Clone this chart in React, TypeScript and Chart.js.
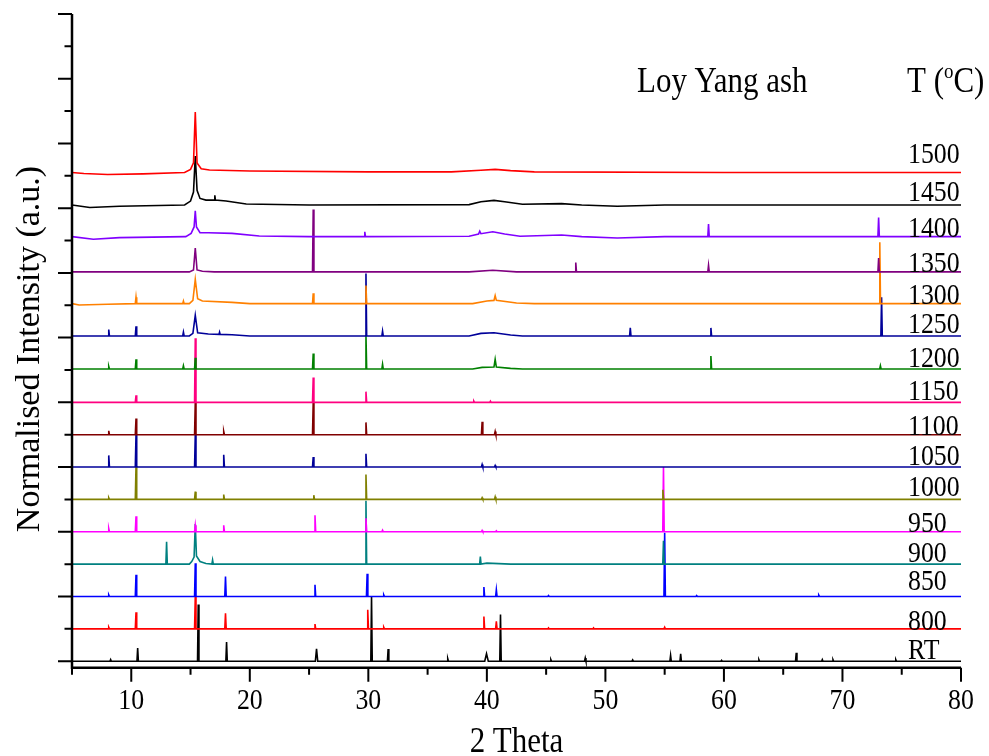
import React, { useEffect, useRef } from 'react';
import { Chart, registerables } from 'chart.js';

Chart.register(...registerables);

type Peak = [number, number] | [number, number, number];
type Pt = [number, number];

// Heat-treatment temperatures, bottom trace to top trace
const temperatures = ['RT', '800', '850', '900', '950', '1000', '1050', '1100', '1150', '1200', '1250', '1300', '1350', '1400', '1450', '1500'];
const traceColors = ['#000000', '#ff0000', '#0000ff', '#008080', '#ff00ff', '#808000', '#000099', '#800000', '#ff0080', '#008000', '#000099', '#ff8000', '#800080', '#8000ff', '#000000', '#ff0000'];
// vertical stacking offset of each pattern (a.u.)
const traceOffsets = [0, 1, 2, 3, 4, 5, 6, 7, 8, 9.03, 10.05, 11.05, 12.03, 13.12, 14.1, 15.1];

const xTickValues = [10, 20, 30, 40, 50, 60, 70, 80];

// Sharp reflections: [2θ (deg), height above pattern baseline (a.u.), optional half width (deg)]
const peaksRT: Peak[] = [[8.26, 0.05], [10.54, 0.41], [15.65, 1.75], [18.04, 0.59], [25.63, 0.38, 0.1], [30.27, 1.99], [31.67, 0.38], [36.7, 0.08], [39.97, 0.23, 0.15], [41.15, 1.44], [45.4, 0.05], [48.3, 0.1], [52.3, 0.04], [55.5, 0.18], [56.35, 0.23], [59.8, 0.03], [62.95, 0.05], [66.1, 0.26], [68.3, 0.05], [69.2, 0.05], [74.5, 0.05]];
const peaks800: Peak[] = [[8.1, 0.05], [10.4, 0.51], [15.4, 1.0], [17.95, 0.48], [25.5, 0.15], [29.95, 0.59], [31.3, 0.05], [39.75, 0.38], [40.8, 0.23], [45.2, 0.03], [49.0, 0.03], [55.0, 0.05]];
const peaks850: Peak[] = [[8.1, 0.05], [10.4, 0.67], [15.4, 1.03], [17.95, 0.62], [25.5, 0.36], [29.9, 0.7], [31.3, 0.05], [39.75, 0.29], [40.8, 0.21], [45.2, 0.03], [55.0, 1.97], [57.7, 0.03], [68.0, 0.04]];
const peaks900: Peak[] = [[12.98, 0.69], [29.8, 1.96], [39.45, 0.23], [54.9, 0.72]];
const peaks950: Peak[] = [[8.1, 0.1], [10.4, 0.48], [15.4, 0.2], [17.8, 0.2], [25.5, 0.51], [29.8, 0.42], [31.2, 0.05], [39.6, 0.04], [40.8, 0.03], [54.9, 2.0]];
const peaks1000: Peak[] = [[8.1, 0.05], [10.4, 1.03], [15.4, 0.24], [17.8, 0.15], [25.4, 0.13], [29.8, 0.77], [39.6, 0.05], [40.7, 0.08], [54.85, 0.3]];
const peaks1050: Peak[] = [[8.1, 0.36], [10.4, 1.0], [15.4, 1.0], [17.8, 0.38], [25.35, 0.31], [29.8, 0.41], [39.6, 0.08], [40.7, 0.05]];
const peaks1100: Peak[] = [[8.1, 0.12], [10.4, 0.5], [15.4, 1.0], [17.8, 0.1], [25.35, 1.0], [29.8, 0.38], [39.6, 0.4], [40.7, 0.1]];
const peaks1150: Peak[] = [[10.4, 0.22], [15.4, 1.98], [25.35, 0.77], [29.8, 0.33], [38.9, 0.04], [40.3, 0.04]];
const peaks1200: Peak[] = [[8.1, 0.08], [10.4, 0.3], [14.4, 0.1], [15.4, 0.35], [25.35, 0.48], [29.8, 1.05], [31.2, 0.15], [58.9, 0.4], [73.2, 0.1]];
const peaks1250: Peak[] = [[8.1, 0.2], [10.4, 0.3], [14.4, 0.12], [29.8, 1.93], [31.2, 0.15], [52.1, 0.25], [58.9, 0.25], [73.3, 1.2]];
const peaks1300: Peak[] = [[10.4, 0.2], [14.4, 0.08], [25.35, 0.32], [29.8, 0.56], [73.15, 1.9]];
const peaks1350: Peak[] = [[25.35, 1.93], [47.5, 0.29], [58.7, 0.2], [73.05, 0.43]];
const peaks1400: Peak[] = [[29.7, 0.15], [58.7, 0.39], [73.05, 0.59]];
const peaks1450: Peak[] = [];
const peaks1500: Peak[] = [];

// Slowly varying background (amorphous humps and broadened reflections): [2θ, level]
const flatProfile: Pt[] = [[5, 0], [80, 0]];
const profile900: Pt[] = [[5, 0], [14.9, 0], [15.1, 0.08], [15.3, 0.22], [15.4, 1.24], [15.5, 0.25], [15.8, 0.08], [16.3, 0.02], [16.8, 0], [16.86, 0.13], [16.92, 0], [38.8, 0], [40, 0.03], [42, 0], [80, 0]];
const profile1200: Pt[] = [[5, 0], [38.8, 0], [39.6, 0.05], [40.6, 0.06], [40.7, 0.3], [40.8, 0.06], [42, 0.02], [43, 0], [80, 0]];
const profile1250: Pt[] = [[5, 0], [14.9, 0], [15.2, 0.08], [15.4, 0.64], [15.6, 0.1], [16.5, 0.06], [17.4, 0.05], [17.45, 0.12], [17.5, 0.05], [18.5, 0.04], [20, 0], [38.5, 0], [39.5, 0.08], [40.6, 0.1], [42, 0.03], [43, 0], [80, 0]];
const profile1300: Pt[] = [[5, 0], [5.6, -0.04], [8, -0.02], [14.9, 0], [15.2, 0.1], [15.4, 0.75], [15.6, 0.15], [16, 0.08], [18.5, 0.04], [20, 0], [38.8, 0], [40, 0.08], [40.6, 0.1], [40.7, 0.25], [40.8, 0.1], [42.5, 0.02], [44, 0], [80, 0]];
const profile1350: Pt[] = [[5, 0], [14.9, 0], [15.25, 0.06], [15.4, 0.74], [15.55, 0.06], [16, 0.02], [17, 0], [38.5, 0], [40.5, 0.05], [42.5, 0], [80, 0]];
const profile1400: Pt[] = [[5, 0], [6.8, -0.08], [9, -0.03], [14.6, 0], [15.05, 0.1], [15.3, 0.3], [15.4, 0.8], [15.5, 0.3], [15.8, 0.12], [16.5, 0.12], [18.5, 0.1], [20.8, 0.02], [25, 0], [38.5, 0.01], [39.3, 0.08], [39.4, 0.17], [39.5, 0.09], [40.5, 0.15], [41.5, 0.08], [42.8, 0.01], [46.3, 0.05], [48, 0], [51, -0.04], [55, 0], [80, 0]];
const profile1450: Pt[] = [[5, 0], [6.5, -0.08], [9, -0.04], [14.5, 0], [15.0, 0.12], [15.25, 0.4], [15.4, 1.51], [15.55, 0.45], [15.8, 0.2], [16.3, 0.15], [17.0, 0.15], [17.05, 0.3], [17.1, 0.15], [18, 0.12], [19.7, 0.03], [25, 0], [38.5, 0.01], [39.5, 0.1], [40.6, 0.14], [41.5, 0.1], [43, 0.02], [46.3, 0.04], [48, 0], [51, -0.04], [55, 0], [80, 0]];
const profile1500: Pt[] = [[5, 0], [6, -0.03], [8, -0.06], [11, -0.04], [14.5, 0], [15.0, 0.1], [15.25, 0.3], [15.4, 1.87], [15.55, 0.3], [15.9, 0.12], [16.6, 0.08], [20, 0.05], [30, 0.02], [37, 0.02], [39.5, 0.07], [40.7, 0.1], [42, 0.06], [44, 0.02], [60, 0], [80, 0]];

const patternPeaks = [peaksRT, peaks800, peaks850, peaks900, peaks950, peaks1000, peaks1050, peaks1100, peaks1150, peaks1200, peaks1250, peaks1300, peaks1350, peaks1400, peaks1450, peaks1500];
const patternProfiles = [flatProfile, flatProfile, flatProfile, profile900, flatProfile, flatProfile, flatProfile, flatProfile, flatProfile, profile1200, profile1250, profile1300, profile1350, profile1400, profile1450, profile1500];

const SPIKE_HALF_WIDTH = 0.06;
const SQUEEZE = 0.86;
const SERIF = '"Liberation Serif", "Times New Roman", serif';
// pixel lift of each temperature label above its trace
const labelLift = [2, -1, 7, 2, 0, 3, 2, 0, 2, 2, 3, 0, 0, 0, 4, 10];

function buildTrace(offset: number, profile: Pt[], peaks: Peak[]) {
  const pts = profile.map(([x, y]) => ({ x, y: y + offset }));
  for (const p of peaks) {
    const [x, h] = p;
    const w = p.length > 2 ? (p as number[])[2] : SPIKE_HALF_WIDTH;
    pts.push({ x: x - w, y: offset }, { x, y: offset + h }, { x: x + w, y: offset });
  }
  pts.sort((a, b) => a.x - b.x);
  return pts;
}

function squeezedText(ctx: CanvasRenderingContext2D, text: string, x: number, y: number, size: number, align: CanvasTextAlign) {
  ctx.save();
  ctx.translate(x, y);
  ctx.scale(SQUEEZE, 1);
  ctx.font = `${size}px ${SERIF}`;
  ctx.textAlign = align;
  ctx.textBaseline = 'alphabetic';
  ctx.fillText(text, 0, 0);
  ctx.restore();
}

const framePlugin = {
  id: 'xrdFrame',
  afterDraw(chart: any) {
    const { ctx, chartArea: a, scales } = chart;
    const xs = scales.x;
    const ys = scales.y;
    ctx.save();
    ctx.strokeStyle = '#000';
    ctx.fillStyle = '#000';

    // axis lines
    ctx.lineWidth = 2.5;
    ctx.beginPath();
    ctx.moveTo(a.left, a.top);
    ctx.lineTo(a.left, a.bottom);
    ctx.lineTo(a.right, a.bottom);
    ctx.stroke();

    // y ticks: long every 2, short in between
    ctx.lineWidth = 2;
    ctx.beginPath();
    for (let v = 0; v <= 20; v++) {
      const py = ys.getPixelForValue(v);
      const len = v % 2 === 0 ? 14 : 7.5;
      ctx.moveTo(a.left - len, py);
      ctx.lineTo(a.left, py);
    }
    // x ticks: long every 10, short every 5
    for (let v = 5; v <= 80; v += 5) {
      const px = xs.getPixelForValue(v);
      const len = v % 10 === 0 ? 14 : 7;
      ctx.moveTo(px, a.bottom);
      ctx.lineTo(px, a.bottom + len);
    }
    ctx.stroke();

    // x tick labels
    for (const v of xTickValues) {
      squeezedText(ctx, String(v), xs.getPixelForValue(v), 709, 30, 'center');
    }

    // axis titles
    squeezedText(ctx, '2 Theta', (a.left + a.right) / 2, 752, 36, 'center');
    ctx.save();
    ctx.translate(30, 349);
    ctx.rotate(-Math.PI / 2);
    ctx.font = `34px ${SERIF}`;
    ctx.textAlign = 'center';
    ctx.textBaseline = 'middle';
    ctx.fillText('Normalised Intensity (a.u.)', 0, 0);
    ctx.restore();

    // temperature labels
    temperatures.forEach((t, i) => {
      squeezedText(ctx, t, 908, ys.getPixelForValue(traceOffsets[i]) - labelLift[i], 30, 'left');
    });

    // header
    squeezedText(ctx, 'Loy Yang ash', 637, 92, 36, 'left');
    ctx.font = `36px ${SERIF}`;
    const w1 = ctx.measureText('T (').width * SQUEEZE;
    squeezedText(ctx, 'T (', 907, 92, 36, 'left');
    ctx.font = `22px ${SERIF}`;
    const w2 = ctx.measureText('o').width * SQUEEZE;
    squeezedText(ctx, 'o', 907 + w1, 78, 22, 'left');
    squeezedText(ctx, 'C)', 907 + w1 + w2, 92, 36, 'left');

    ctx.restore();
  },
};

export default function App() {
  const ref = useRef<HTMLCanvasElement>(null);

  useEffect(() => {
    const datasets = temperatures
      .map((t, i) => ({
        label: t,
        data: buildTrace(traceOffsets[i], patternProfiles[i], patternPeaks[i]),
        borderColor: traceColors[i],
        backgroundColor: traceColors[i],
        borderWidth: 1.6,
        pointRadius: 0,
        fill: false,
        tension: 0,
      }))
      .reverse(); // first dataset is painted last, so the hottest pattern sits on top

    const chart = new Chart(ref.current as HTMLCanvasElement, {
      type: 'line',
      data: { datasets },
      options: {
        animation: false,
        responsive: false,
        devicePixelRatio: 1,
        events: [],
        parsing: false,
        layout: { padding: { left: 72, right: 28, top: 14, bottom: 88.3 } },
        plugins: { legend: { display: false }, tooltip: { enabled: false } },
        scales: {
          x: { type: 'linear', min: 5, max: 80, display: false },
          y: { type: 'linear', min: -0.2, max: 20, display: false },
        },
      },
      plugins: [framePlugin],
    } as any);
    return () => chart.destroy();
  }, []);

  return (
    <div style={{ position: 'absolute', left: 0, top: 0, width: 989, height: 756, background: '#ffffff' }}>
      <canvas ref={ref} width={989} height={756} style={{ display: 'block', width: 989, height: 756 }} />
    </div>
  );
}
